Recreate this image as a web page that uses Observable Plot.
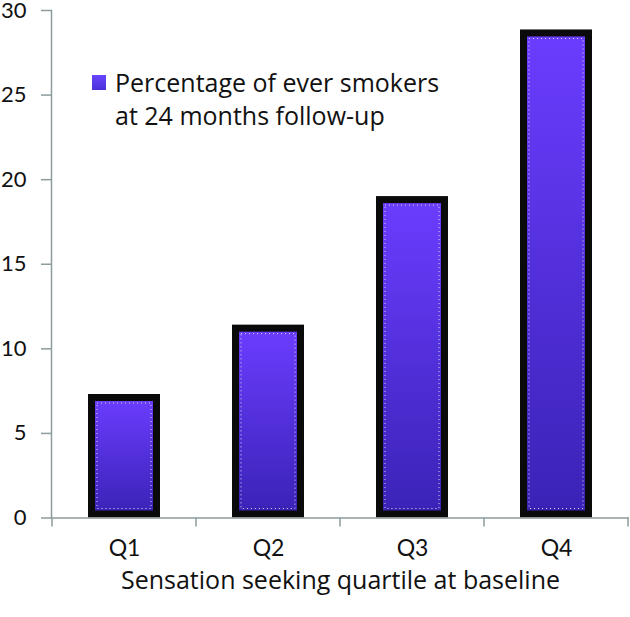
<!DOCTYPE html>
<html>
<head>
<meta charset="utf-8">
<script src="https://cdn.jsdelivr.net/npm/d3@7"></script>
<script src="https://cdn.jsdelivr.net/npm/@observablehq/plot@0.6"></script>
<style>
  html, body { margin: 0; padding: 0; background: #fff; }
  #wrap { position: relative; width: 630px; height: 617px; }
  #legend { position: absolute; left: 92px; top: 66px; font-family: "Open Sans", Lato, sans-serif; font-size: 25px; line-height: 33px; color: #111; white-space: nowrap; }
  #legend .sw { position: absolute; left: 0; top: 9px; width: 14px; height: 15px; background: linear-gradient(#6a46ff, #4a30d8); }
  #legend .tx { margin-left: 23px; }
  #wrap svg g[aria-label="x-axis label"] text { font-family: "Open Sans", Lato, sans-serif; font-size: 25px; }
</style>
</head>
<body>
<div id="wrap"><div id="legend"></div></div>
<script>
const categories = ["Q1", "Q2", "Q3", "Q4"];
const values = [7.3, 11.4, 19.0, 28.85];
const yTicks = [0, 5, 10, 15, 20, 25, 30];
const seriesName = ["Percentage of ever smokers", "at 24 months follow-up"];
const xTitle = "Sensation seeking quartile at baseline";

const data = categories.map((c, i) => ({q: c, v: values[i]}));
const axisColor = "#8c9c9c";
const font = "Lato, 'Open Sans', sans-serif";

const chart = Plot.plot({
  width: 630,
  height: 617,
  marginLeft: 51,
  marginRight: 1,
  marginTop: 10,
  marginBottom: 99.5,
  style: {fontFamily: font, fontSize: "22px", color: "#111", background: "#fff", overflow: "visible"},
  x: {domain: categories, paddingInner: 0.5, paddingOuter: 0.25},
  y: {domain: [0, 30]},
  marks: [
    Plot.barY(data, {x: "q", y: "v", fill: "url(#barGrad)", stroke: "#0a0a0a", strokeWidth: 7, inset: 3.5}),
    Plot.barY(data, {x: "q", y: "v", fill: "none", stroke: "#dcdcec", strokeWidth: 1, strokeDasharray: "1,3", inset: 9}),
    Plot.ruleY([0], {stroke: axisColor, strokeWidth: 1.5}),
    Plot.frame({anchor: "left", stroke: axisColor, strokeWidth: 1.5}),
    Plot.axisY({ticks: yTicks, tickSize: 10, tickPadding: 15, stroke: axisColor, strokeWidth: 1.5, label: null, fontSize: 22}),
    Plot.axisX({tickSize: 0, tickPadding: 22, label: xTitle, labelAnchor: "center", labelOffset: 71, fontSize: 23})
  ]
});

// gradient definition for bars
const svg = d3.select(chart);
const defs = svg.insert("defs", ":first-child");
const g = defs.append("linearGradient").attr("id", "barGrad").attr("x1", 0).attr("y1", 0).attr("x2", 0).attr("y2", 1);
g.append("stop").attr("offset", "0%").attr("stop-color", "#6b3dff");
g.append("stop").attr("offset", "100%").attr("stop-color", "#3a22b6");

// category boundary ticks from the x band scale
const xs = chart.scale("x");
const ys = chart.scale("y");
const y0 = ys.apply(0);
const bounds = categories.map(c => xs.apply(c) - xs.step * xs.paddingInner / 2);
bounds.push(xs.apply(categories[categories.length - 1]) + xs.bandwidth + xs.step * xs.paddingInner / 2);
svg.append("g").selectAll("line").data(bounds).join("line")
  .attr("x1", d => d).attr("x2", d => d)
  .attr("y1", y0).attr("y2", y0 + 9)
  .attr("stroke", axisColor).attr("stroke-width", 1.5);

document.getElementById("wrap").prepend(chart);
const lg = document.getElementById("legend");
lg.innerHTML = '<div class="sw"></div>' + seriesName.map(s => '<div class="tx">' + s + '</div>').join("");
</script>
</body>
</html>
